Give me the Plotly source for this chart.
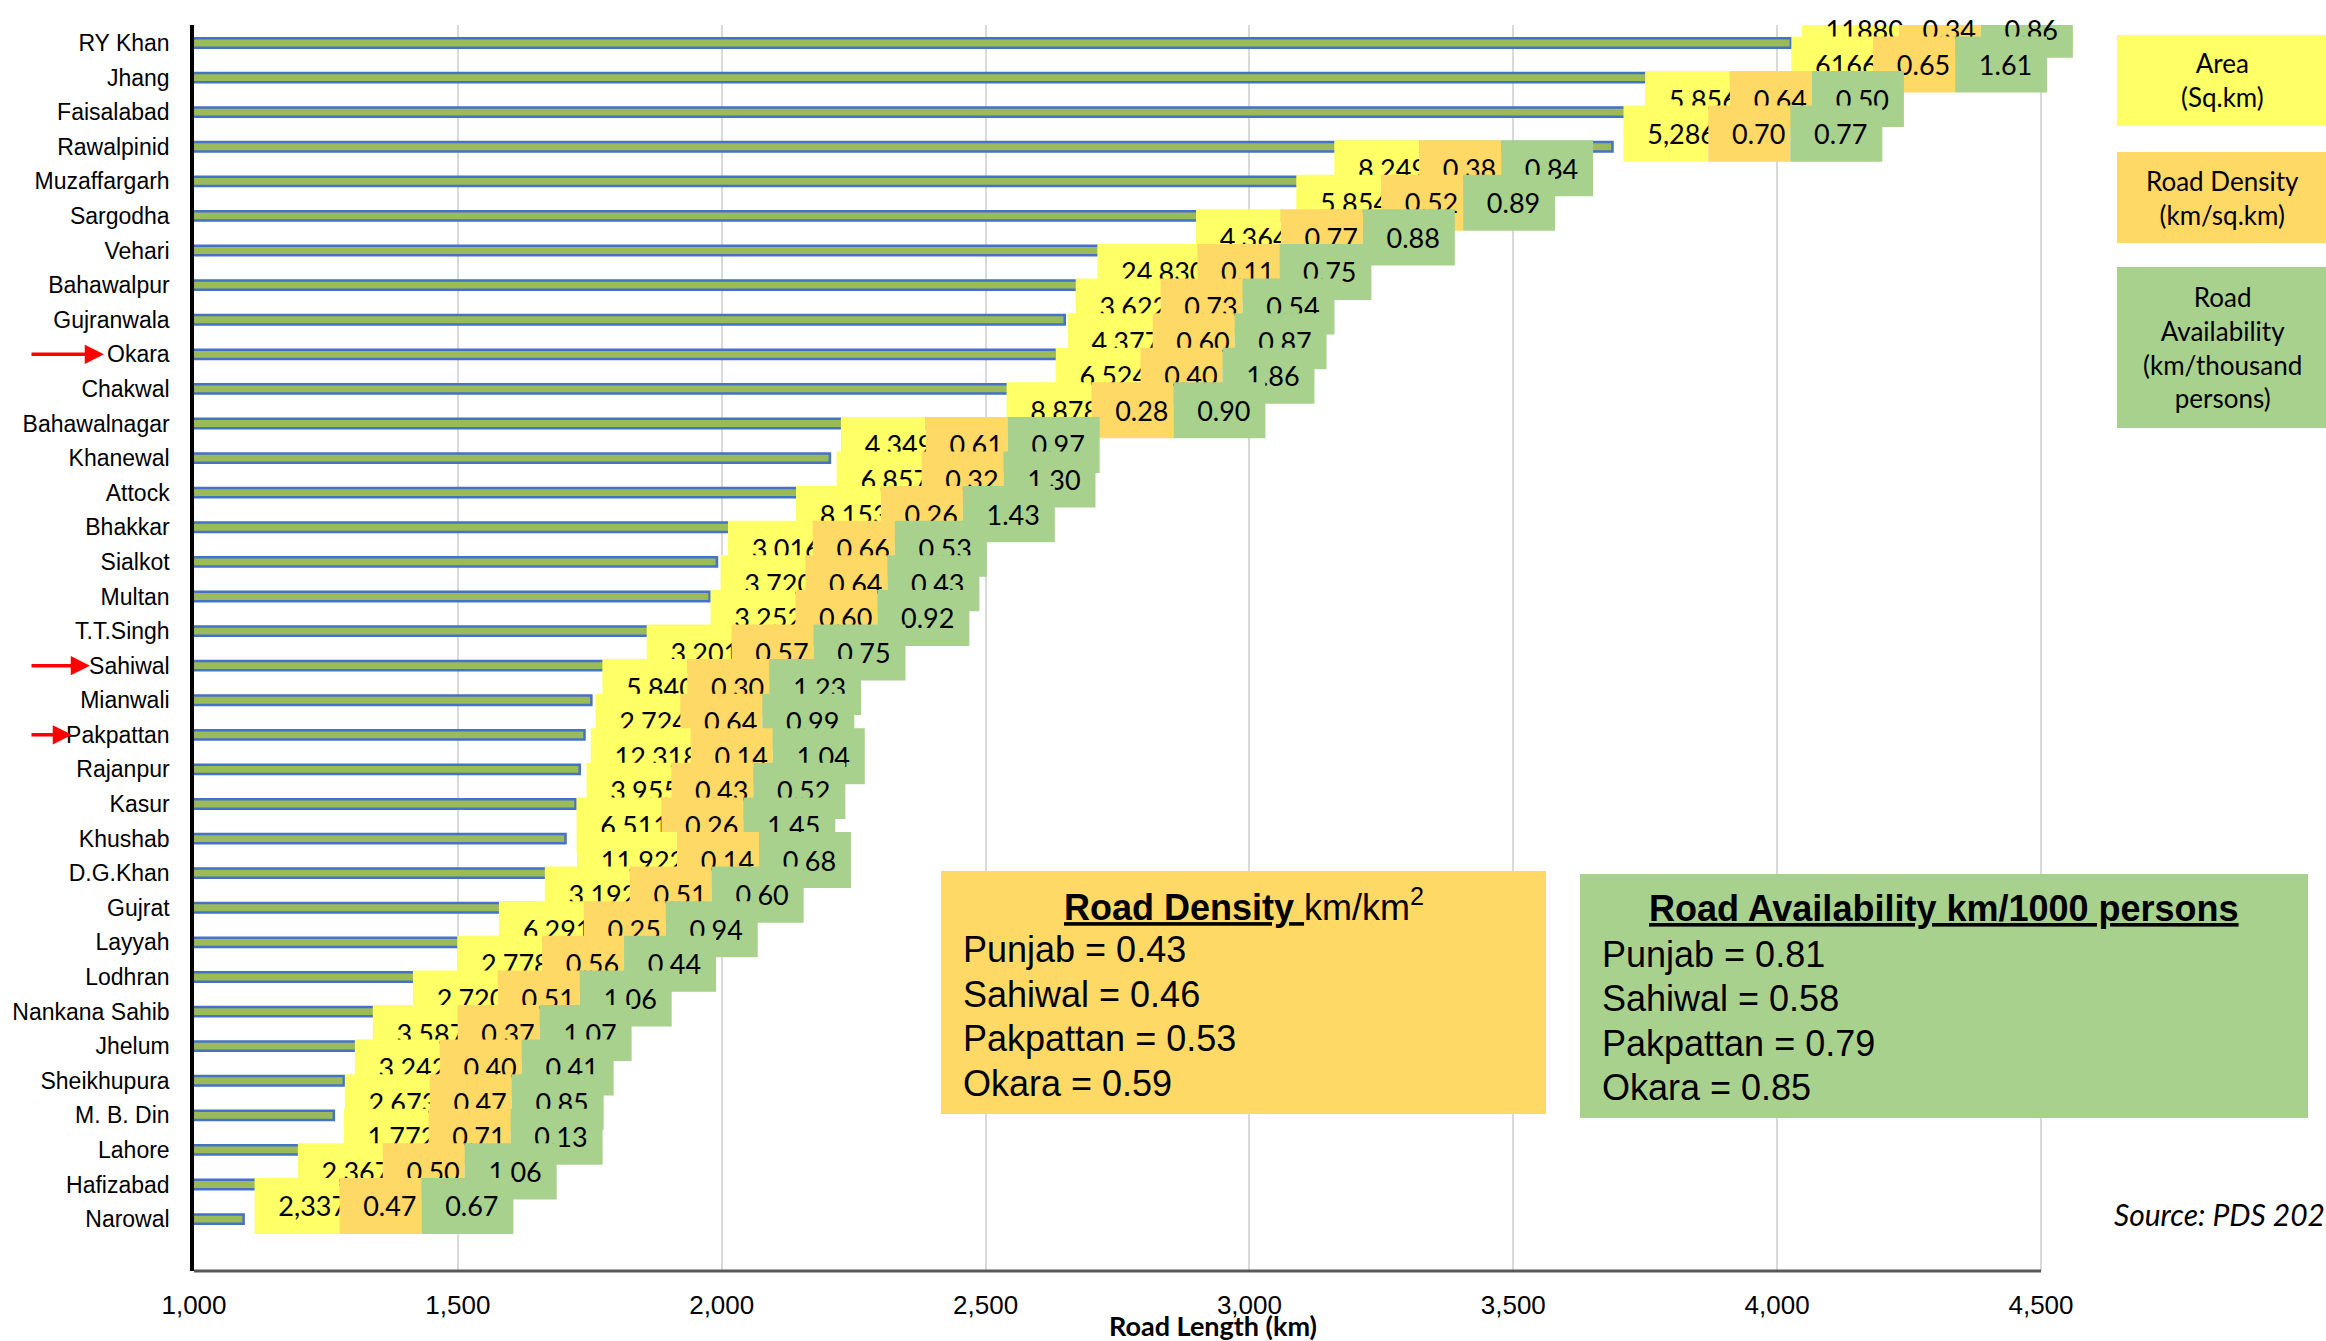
import plotly.graph_objects as go

# ---------------- data ----------------
districts = ["RY Khan", "Jhang", "Faisalabad", "Rawalpinid", "Muzaffargarh", "Sargodha", "Vehari",
             "Bahawalpur", "Gujranwala", "Okara", "Chakwal", "Bahawalnagar", "Khanewal", "Attock",
             "Bhakkar", "Sialkot", "Multan", "T.T.Singh", "Sahiwal", "Mianwali", "Pakpattan",
             "Rajanpur", "Kasur", "Khushab", "D.G.Khan", "Gujrat", "Layyah", "Lodhran",
             "Nankana Sahib", "Jhelum", "Sheikhupura", "M. B. Din", "Lahore", "Hafizabad", "Narowal"]
road_length_km = [4026, 4006, 3729, 3688, 3140, 3068, 2878, 2691, 2650, 2635, 2612, 2519, 2205, 2197,
                  2120, 1991, 1977, 1958, 1837, 1753, 1740, 1731, 1723, 1704, 1705, 1644, 1557, 1478,
                  1394, 1318, 1284, 1265, 1263, 1176, 1094]
area_sqkm = ["11880", "6166", "5.856", "5,286", "8.249", "5.854", "4,364", "24,830", "3,622", "4,377",
             "6,524", "8,878", "4,349", "6,857", "8,153", "3.016", "3,720", "3,252", "3,201", "5,840",
             "2,724", "12,318", "3,955", "6,511", "11,922", "3,192", "6,291", "2,778", "2,720", "3,587",
             "3,242", "2,673", "1,772", "2,367", "2,337"]
road_density = [0.34, 0.65, 0.64, 0.70, 0.38, 0.52, 0.77, 0.11, 0.73, 0.60, 0.40, 0.28, 0.61, 0.32,
                0.26, 0.66, 0.64, 0.60, 0.57, 0.30, 0.64, 0.14, 0.43, 0.26, 0.14, 0.51, 0.25, 0.56,
                0.51, 0.37, 0.40, 0.47, 0.71, 0.50, 0.47]
road_availability = [0.86, 1.61, 0.50, 0.77, 0.84, 0.89, 0.88, 0.75, 0.54, 0.87, 1.86, 0.90, 0.97, 1.30,
                     1.43, 0.53, 0.43, 0.92, 0.75, 1.23, 0.99, 1.04, 0.52, 1.45, 0.68, 0.60, 0.94, 0.44,
                     1.06, 1.07, 0.41, 0.85, 0.13, 1.06, 0.67]
x_ticks = [1000, 1500, 2000, 2500, 3000, 3500, 4000, 4500]
highlighted = ["Okara", "Sahiwal", "Pakpattan"]
summary_regions = ["Punjab", "Sahiwal", "Pakpattan", "Okara"]
summary_density = [0.43, 0.46, 0.53, 0.59]
summary_availability = [0.81, 0.58, 0.79, 0.85]

# ---------------- layout constants ----------------
W, H = 2326, 1341
L, T, B = 194, 25, 70
AXIS_PX = 1847                 # pixel length of the 1,000-4,500 axis
PW, PH = W - L, H - T - B      # plotting region runs to the right page edge
X0, X_AXIS_END = x_ticks[0], x_ticks[-1]
UPP = (X_AXIS_END - X0) / AXIS_PX   # data units per pixel
X_FAR = X0 + PW * UPP
Y_TOP, Y_BOT = -0.52, 35.5
GAP_PX = 11
LABEL_SHIFT = 0.38
LABEL_H = 1.62
YELLOW, ORANGE, GREEN = "#FFFF66", "#FFD966", "#A9D18E"
LABEL_FONT = dict(family="Lato", size=27, color="black")


def pxx(px):
    return (px - L) / PW


def pxy(py):
    return (H - B - py) / PH


def text_w(s):
    return sum(15.2 if c.isdigit() else 3.0 for c in s)


rows = list(range(len(districts)))
fig = go.Figure()

# main bars
fig.add_trace(go.Bar(
    orientation="h", y=rows, x=road_length_km, width=0.27,
    marker=dict(color="#9BBB59", line=dict(color="#4472C4", width=2.5)),
    hoverinfo="skip", showlegend=False))

PAD = "\u00a0" * 3
for k in rows:
    start = road_length_km[k] + GAP_PX * UPP
    wy = (21 + text_w(area_sqkm[k])) * UPP
    wo = 82 * UPP
    wg = 92 * UPP
    fig.add_trace(go.Bar(
        orientation="h", y=[k - LABEL_SHIFT] * 3, x=[wy, wo, wg],
        base=[start, start + wy, start + wy + wo], width=LABEL_H,
        marker=dict(color=[YELLOW, ORANGE, GREEN], line=dict(width=0)),
        text=[PAD + area_sqkm[k], PAD + f"{road_density[k]:.2f}", PAD + f"{road_availability[k]:.2f}"],
        textposition="inside", insidetextanchor="start", textangle=0, constraintext="none",
        textfont=LABEL_FONT, cliponaxis=False, hoverinfo="skip", showlegend=False))

shapes = []
annotations = []

# x axis line (ends at 4,500)
shapes.append(dict(type="line", xref="x", yref="paper", x0=X0, x1=X_AXIS_END, y0=0, y1=0,
                   line=dict(color="#595959", width=3), layer="above"))

# legend boxes (right)
legend_items = [
    (YELLOW, 35, 126, "Area<br>(Sq.km)"),
    (ORANGE, 152, 243, "Road Density<br>(km/sq.km)"),
    (GREEN, 267, 428, "Road<br>Availability<br>(km/thousand<br>persons)"),
]
for col, y0, y1, txt in legend_items:
    shapes.append(dict(type="rect", xref="paper", yref="paper", x0=pxx(2117), x1=pxx(2330),
                       y0=pxy(y1), y1=pxy(y0), fillcolor=col, line=dict(width=0), layer="above"))
    annotations.append(dict(xref="paper", yref="paper", x=pxx(2222), y=pxy((y0 + y1) / 2),
                            text=txt, showarrow=False, align="center", xanchor="center", yanchor="middle",
                            font=dict(family="Lato", size=26, color="black")))

# summary boxes
INFO_FONT = dict(family="Liberation Sans, Arial, sans-serif", size=36, color="black")
boxes = [
    (ORANGE, 941, 1546, 871, 1114, "<b><u>Road Density </u></b>km/km<sup>2</sup>", 905,
     summary_density, 961, [949, 994, 1038, 1083]),
    (GREEN, 1580, 2308, 874, 1118, "<b><u>Road Availability km/1000 persons</u></b>", 908,
     summary_availability, 1600, [954, 998, 1043, 1087]),
]
for col, x0, x1, y0, y1, title, ty, vals, lx, lys in boxes:
    shapes.append(dict(type="rect", xref="paper", yref="paper", x0=pxx(x0), x1=pxx(x1),
                       y0=pxy(y1), y1=pxy(y0), fillcolor=col, line=dict(width=0), layer="above"))
    annotations.append(dict(xref="paper", yref="paper", x=pxx((x0 + x1) / 2), y=pxy(ty), text=title,
                            showarrow=False, xanchor="center", yanchor="middle", font=INFO_FONT))
    for name, v, yy in zip(summary_regions, vals, lys):
        annotations.append(dict(xref="paper", yref="paper", x=pxx(lx), y=pxy(yy),
                                text=f"{name} = {v:.2f}", showarrow=False, xanchor="left",
                                yanchor="middle", font=INFO_FONT))

# red arrows
arrow_tip_px = {"Okara": 104, "Sahiwal": 90, "Pakpattan": 72}
for name in highlighted:
    k = districts.index(name)
    tip = arrow_tip_px[name]
    annotations.append(dict(xref="paper", yref="y", x=pxx(tip), y=k, ax=-(tip - 30), ay=0,
                            text="", showarrow=True, arrowhead=2, arrowsize=1.1, arrowwidth=3.5,
                            arrowcolor="#FF0000", standoff=0, startstandoff=0))

# axis title and source
annotations.append(dict(xref="paper", yref="paper", x=pxx(1213), y=pxy(1325),
                        text="<b>Road Length (km)</b>", showarrow=False, xanchor="center", yanchor="middle",
                        font=dict(family="Lato", size=27, color="black")))
annotations.append(dict(xref="paper", yref="paper", x=pxx(2112), y=pxy(1214),
                        text="<i>Source: PDS 2022</i>", showarrow=False, xanchor="left", yanchor="middle",
                        font=dict(family="Lato", size=30, color="black")))

fig.update_layout(
    width=W, height=H, margin=dict(l=L, r=0, t=T, b=B, autoexpand=False),
    paper_bgcolor="white", plot_bgcolor="white", barmode="overlay",
    shapes=shapes, annotations=annotations, showlegend=False,
    xaxis=dict(range=[X0, X_FAR], tickvals=x_ticks, tickformat=",", showgrid=True,
               gridcolor="#D9D9D9", gridwidth=1.5, showline=False,
               zeroline=False, ticks="", ticklabelstandoff=16,
               tickfont=dict(family="Liberation Sans Narrow, Arial Narrow, Liberation Sans", size=26,
                             color="black")),
    yaxis=dict(range=[Y_BOT, Y_TOP], tickvals=rows, ticktext=districts, showgrid=False,
               zeroline=False, showline=True, linecolor="black", linewidth=3.5, ticks="",
               ticklabelstandoff=16,
               tickfont=dict(family="Liberation Sans, Arial", size=23, color="black")),
)

fig.write_html("out.html", config={"displayModeBar": False},
               post_script="document.body.style.margin='0';document.body.style.overflow='hidden';")
